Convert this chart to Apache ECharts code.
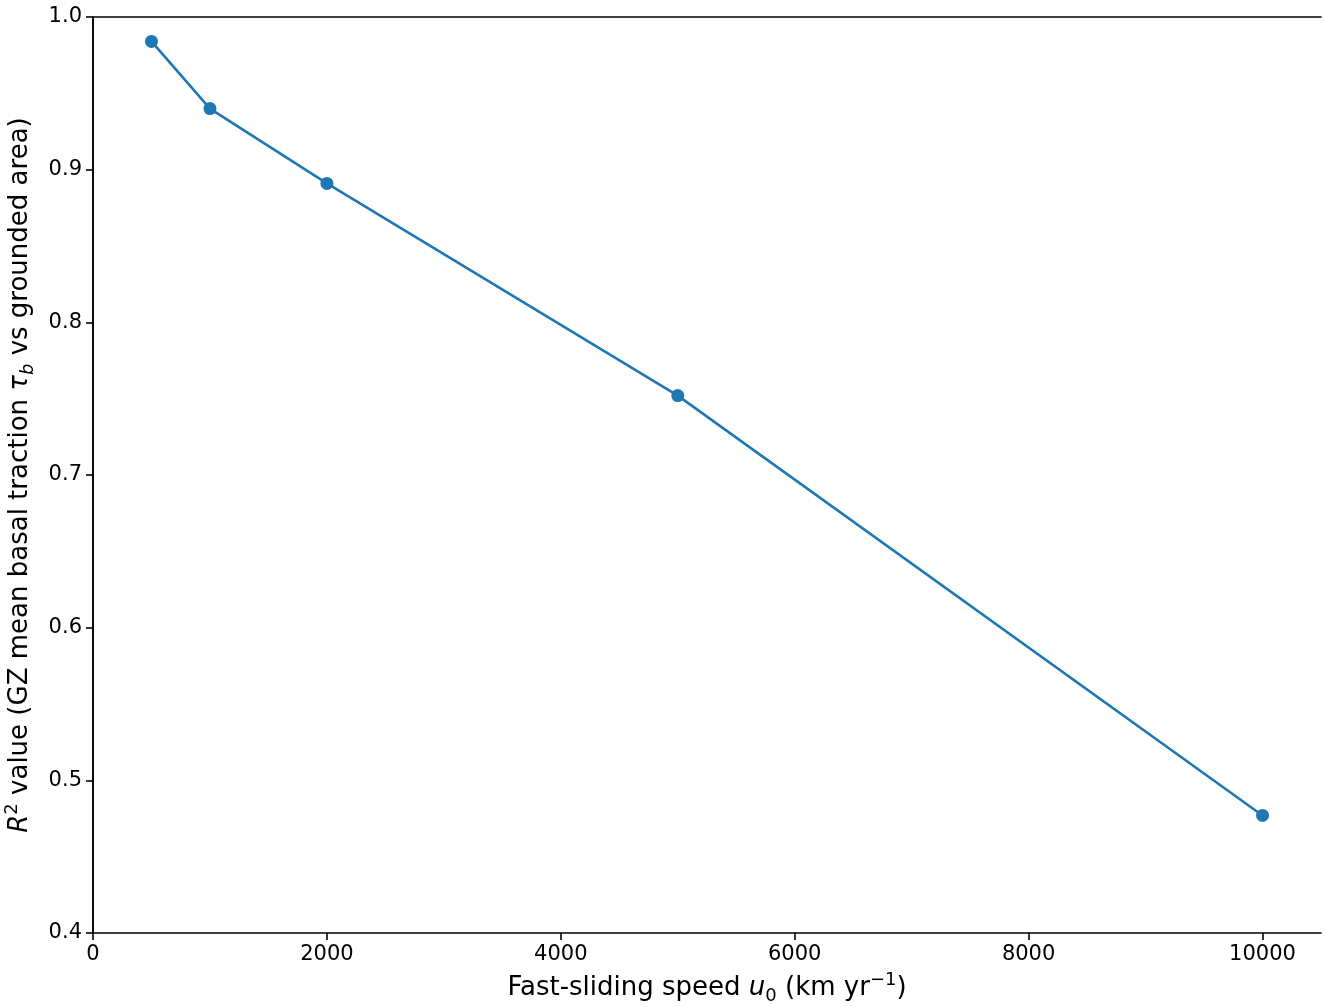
<!DOCTYPE html>
<html>
<head>
<meta charset="utf-8">
<script src="https://cdn.jsdelivr.net/npm/echarts@6/dist/echarts.min.js"></script>
<style>
  html, body { margin: 0; padding: 0; background: #fff; }
  #chart { width: 1325px; height: 1007px; }
</style>
</head>
<body>
<div id="chart"></div>
<script>
// fast-sliding speed u0 (km/yr) and R^2 value
var speeds = [500, 1000, 2000, 5000, 10000];
var r2 = [0.984, 0.940, 0.891, 0.752, 0.477];
var xTicks = [0, 2000, 4000, 6000, 8000, 10000];
var yTicks = [0.4, 0.5, 0.6, 0.7, 0.8, 0.9, 1.0];

var font = 'DejaVu Sans';
var blue = '#1f77b4';

var chart = echarts.init(document.getElementById('chart'));

var points = [];
for (var i = 0; i < speeds.length; i++) {
  points.push([speeds[i], r2[i]]);
}

var nameRich = {
  n: { fontFamily: font, fontSize: 26, color: '#000', lineHeight: 34 },
  i: { fontFamily: font, fontSize: 26, color: '#000', fontStyle: 'italic', lineHeight: 34 },
  sub: { fontFamily: font, fontSize: 18, color: '#000', verticalAlign: 'bottom', lineHeight: 34 },
  isub: { fontFamily: font, fontSize: 18, color: '#000', fontStyle: 'italic', verticalAlign: 'bottom', lineHeight: 34 },
  sup: { fontFamily: font, fontSize: 18, color: '#000', verticalAlign: 'top', lineHeight: 34 }
};

option = {
  backgroundColor: '#fff',
  animation: false,
  grid: { left: 93, top: 17, right: 4, bottom: 74, containLabel: false, outerBoundsMode: 'none' },
  xAxis: [
    {
      type: 'value',
      min: 0,
      max: 10500,
      position: 'bottom',
      name: '{n|Fast-sliding speed }{i|u}{sub|0}{n| (km yr}{sup|−1}{n|)}',
      nameLocation: 'middle',
      nameGap: 38,
      nameTextStyle: { fontFamily: font, fontSize: 26, color: '#000', rich: nameRich },
      axisLine: { lineStyle: { color: '#000', width: 1.6 } },
      axisTick: { show: true, length: 7, customValues: xTicks, lineStyle: { color: '#000', width: 1.6 } },
      axisLabel: {
        customValues: xTicks, fontFamily: font, fontSize: 21, color: '#000', margin: 11,
        formatter: function (v) { return String(v); }
      },
      splitLine: { show: false }
    },
    {
      type: 'value',
      min: 0,
      max: 10500,
      position: 'top',
      axisLine: { show: true, lineStyle: { color: '#000', width: 1.6 } },
      axisTick: { show: false },
      axisLabel: { show: false },
      splitLine: { show: false }
    }
  ],
  yAxis: [
    {
      type: 'value',
      min: 0.4,
      max: 1.0,
      interval: 0.1,
      position: 'left',
      name: '{i|R}{sup|2}{n| value (GZ mean basal traction }{i|τ}{isub|b}{n| vs grounded area)}',
      nameLocation: 'middle',
      nameRotate: 90,
      nameGap: 46,
      nameTextStyle: { fontFamily: font, fontSize: 26, color: '#000', rich: nameRich },
      axisLine: { show: true, lineStyle: { color: '#000', width: 1.6 } },
      axisTick: { show: true, length: 7, lineStyle: { color: '#000', width: 1.6 } },
      axisLabel: {
        fontFamily: font, fontSize: 21, color: '#000', margin: 11,
        formatter: function (v) { return v.toFixed(1); }
      },
      splitLine: { show: false }
    },
    {
      type: 'value',
      min: 0.4,
      max: 1.0,
      position: 'right',
      axisLine: { show: true, lineStyle: { color: '#000', width: 1.6 } },
      axisTick: { show: false },
      axisLabel: { show: false },
      splitLine: { show: false }
    }
  ],
  series: [
    {
      type: 'line',
      xAxisIndex: 0,
      yAxisIndex: 0,
      data: points,
      symbol: 'circle',
      symbolSize: 13,
      lineStyle: { color: blue, width: 2.6 },
      itemStyle: { color: blue },
      z: 3
    }
  ]
};

chart.setOption(option);
</script>
</body>
</html>
